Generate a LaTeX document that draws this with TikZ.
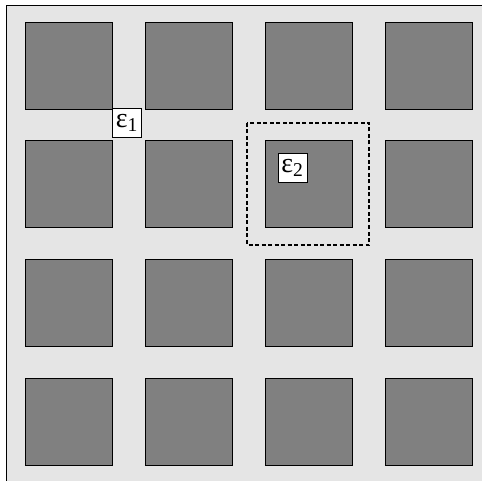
\documentclass[tikz,border=0pt]{standalone}
\usepackage{fontspec}
\setmainfont{Liberation Serif}

\begin{document}
\begin{tikzpicture}[x=1pt,y=-1pt,
    cell/.style={draw=black,fill=gray,line width=0.9pt},
    tag/.style={draw=black,fill=white,line width=0.8pt,inner sep=0pt,
      minimum width=29pt,minimum height=29pt,
      font=\fontsize{28}{30}\selectfont}]
  \useasboundingbox (0,0) rectangle (482,481);
  % light background plate, right and bottom edges run off the page
  \draw[fill=gray!20,line width=0.9pt] (6,5) rectangle (500,500);
  % 4x4 grid of dark cells
  \foreach \i in {0,...,3}
    \foreach \j in {0,...,3}
      \draw[cell] ({25+120*\i},{22+118.7*\j}) rectangle ++(87,87);
  % dashed window round the cell in row 2, column 3
  \draw[dashed,dash pattern=on 4pt off 2.5pt,line width=1.3pt]
    (247,123) rectangle (369,245);
  % labels
  \node[tag,anchor=north west] (e1) at (112,108) {ε\textsubscript{1}};
  \node[tag] (e2) at (292.5,168) {ε\textsubscript{2}};
\end{tikzpicture}
\end{document}
